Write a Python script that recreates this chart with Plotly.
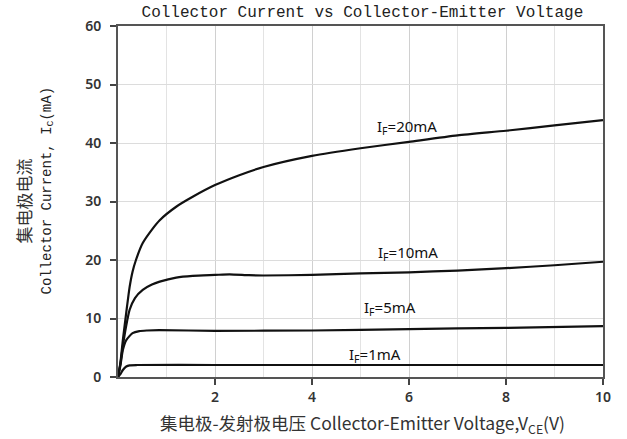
import plotly.graph_objects as go

# Data
vce_20 = [0, 0.05, 0.1, 0.17, 0.24, 0.3, 0.37, 0.51, 0.7, 0.86, 1.2, 1.54, 2.0, 2.5, 3, 4, 5, 6, 7, 8, 9, 10]
ic_20 = [0, 2.5, 6.3, 11.0, 15.4, 18.0, 20.0, 22.9, 25.2, 26.8, 29.1, 30.8, 32.8, 34.5, 35.9, 37.8, 39.1, 40.2, 41.3, 42.1, 43.0, 43.9]

vce_10 = [0, 0.05, 0.1, 0.17, 0.24, 0.35, 0.51, 0.7, 0.86, 1.2, 1.54, 2.0, 2.3, 2.7, 3, 4, 5, 6, 7, 8, 9, 10]
ic_10 = [0, 2.3, 5.3, 8.8, 11.5, 13.5, 14.9, 15.8, 16.3, 17.0, 17.3, 17.45, 17.55, 17.4, 17.35, 17.45, 17.7, 17.9, 18.2, 18.6, 19.1, 19.7]

vce_5 = [0, 0.05, 0.1, 0.17, 0.3, 0.44, 0.6, 0.85, 2, 4, 6, 8, 10]
ic_5 = [0, 2.0, 4.6, 6.3, 7.5, 7.85, 7.95, 8.0, 7.9, 7.95, 8.2, 8.4, 8.7]

vce_1 = [0, 0.05, 0.1, 0.17, 0.24, 0.4, 2, 5, 10]
ic_1 = [0, 0.5, 1.2, 1.8, 2.0, 2.05, 2.05, 2.05, 2.05]

labels = ["I<sub>F</sub>=20mA", "I<sub>F</sub>=10mA", "I<sub>F</sub>=5mA", "I<sub>F</sub>=1mA"]
label_x = [5.95, 5.97, 5.6, 5.29]
label_y = [42.7, 21.2, 11.8, 3.8]

x_tickvals = [2, 4, 6, 8, 10]
y_tickvals = [0, 10, 20, 30, 40, 50, 60]

title_text = "Collector Current vs Collector-Emitter Voltage"
ytitle_cn = "集电极电流"
ytitle_en = "Collector Current, I<sub>C</sub>(mA)"
xtitle = "集电极-发射极电压 Collector-Emitter Voltage,V<sub>CE</sub>(V)"

fig = go.Figure()
for xs, ys in [(vce_20, ic_20), (vce_10, ic_10), (vce_5, ic_5), (vce_1, ic_1)]:
    fig.add_trace(go.Scatter(x=xs, y=ys, mode="lines",
                             line=dict(color="#111111", width=2.2, shape="spline", smoothing=0.6),
                             showlegend=False, hoverinfo="skip"))

for t, x, y in zip(labels, label_x, label_y):
    fig.add_annotation(x=x, y=y, text=t, showarrow=False,
                       font=dict(family="Noto Sans, sans-serif", size=15, color="#111111"),
                       xanchor="center", yanchor="middle")

# Y axis titles
fig.add_annotation(xref="paper", yref="paper", x=0, y=0.5, xshift=-95, yshift=0,
                   text=ytitle_cn, textangle=-90, showarrow=False,
                   font=dict(family="Noto Sans CJK SC", size=17, color="#333333"),
                   xanchor="center", yanchor="middle")
fig.add_annotation(xref="paper", yref="paper", x=0, y=0.5, xshift=-71, yshift=11,
                   text=ytitle_en, textangle=-90, showarrow=False,
                   font=dict(family="Liberation Mono, monospace", size=14, color="#222222"),
                   xanchor="center", yanchor="middle")
# X axis title
fig.add_annotation(xref="paper", yref="paper", x=0.5, y=0, yshift=-47, xshift=2,
                   text=xtitle, showarrow=False,
                   font=dict(family="Noto Sans CJK SC, Noto Sans", size=17.5, color="#333333"),
                   xanchor="center", yanchor="middle")

fig.update_layout(
    width=627, height=439,
    margin=dict(l=118, r=24, t=26, b=62),
    paper_bgcolor="white", plot_bgcolor="white",
    title=dict(text=title_text, x=0.578, xanchor="center", y=0.975, yanchor="middle",
               font=dict(family="Liberation Mono, monospace", size=16, color="#222222")),
    xaxis=dict(range=[0, 10], tickvals=x_tickvals, ticks="outside", ticklen=6, tickwidth=1.5,
               tickcolor="#444444", showline=True, linecolor="#555555", linewidth=2, mirror=True,
               showgrid=True, gridcolor="#d0d0d0", gridwidth=1.2,
               minor=dict(dtick=1, tick0=0, showgrid=True, gridcolor="#e3e3e3", gridwidth=1.2, ticks=""),
               tickfont=dict(family="Noto Sans, sans-serif", size=14, color="#333333", weight=600),
               zeroline=False),
    yaxis=dict(range=[0, 60], tickvals=y_tickvals, ticks="outside", ticklen=6, tickwidth=1.5,
               tickcolor="#444444", showline=True, linecolor="#555555", linewidth=2, mirror=True,
               showgrid=True, gridcolor="#dcdcdc", gridwidth=1.2,
               tickfont=dict(family="Noto Sans, sans-serif", size=14, color="#333333", weight=600),
               ticklabelstandoff=6, zeroline=False),
)

# remove the default 8px page margin so the figure fills the window exactly
fig.write_html("out.html", config={"displayModeBar": False},
               post_script="document.body.style.margin='0px';")
